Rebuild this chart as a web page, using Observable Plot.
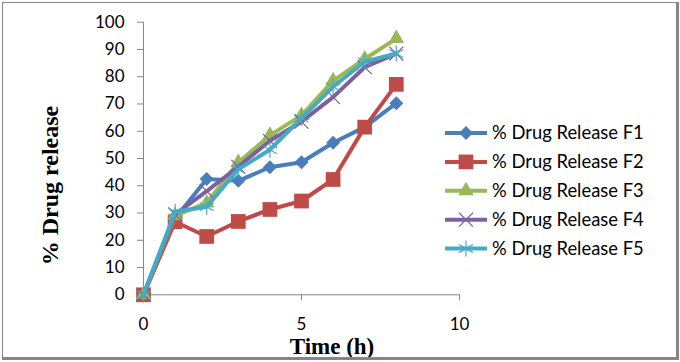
<!DOCTYPE html>
<html>
<head>
<meta charset="utf-8">
<script src="https://cdn.jsdelivr.net/npm/d3@7"></script>
<script src="https://cdn.jsdelivr.net/npm/@observablehq/plot@0.6"></script>
<style>
  body { margin: 0; background: #fff; }
  #wrap { position: relative; width: 680px; height: 362px; }
  #frame { position: absolute; left: 2px; top: 2px; width: 677px; height: 358px; box-sizing: border-box;
    border-left: 1px solid #868686; border-top: 1px solid #868686; border-right: 3px solid #868686; border-bottom: 3px solid #868686; pointer-events: none; }
  #chart { position: absolute; left: 0; top: 0; }
</style>
</head>
<body>
<div id="wrap"><div id="chart"></div><div id="frame"></div></div>
<script>
const time = [0, 1, 2, 3, 4, 5, 6, 7, 8];
const F1 = [0, 28, 42.5, 41.8, 46.8, 48.6, 55.8, 61.5, 70.3];
const F2 = [0, 26.8, 21.4, 26.9, 31.3, 34.4, 42.3, 61.5, 77.2];
const F3 = [0, 29, 33.7, 48.5, 58.5, 65.8, 78.5, 86.5, 94];
const F4 = [0, 29.5, 38, 47, 56.5, 63.5, 72.5, 83.5, 88.5];
const F5 = [0, 30.5, 32.3, 46, 53.2, 64.8, 76.3, 85.5, 88.5];
const seriesNames = ["% Drug Release F1", "% Drug Release F2", "% Drug Release F3", "% Drug Release F4", "% Drug Release F5"];
const seriesValues = [F1, F2, F3, F4, F5];
const xTicks = [0, 5, 10];
const yTicks = [0, 10, 20, 30, 40, 50, 60, 70, 80, 90, 100];

// styles
const colors = ["#4A7EBB", "#BE4B48", "#98B954", "#7D60A0", "#46AAC5"];
const symbols = ["diamond2", "square", "triangle", "times", "asterisk"];
const radii = [6.3, 8.3, 5.8, 6.4, 7.6];
const filled = [true, true, true, false, false];

const series = seriesNames.map((name, i) => ({
  name, color: colors[i], symbol: symbols[i], r: radii[i], filled: filled[i],
  data: time.map((t, j) => ({time: t, value: seriesValues[i][j]}))
}));

const marks = [
  Plot.ruleY([0], {stroke: "#868686", strokeWidth: 1}),
  Plot.ruleX([0], {stroke: "#868686", strokeWidth: 1}),
  Plot.axisX({ticks: xTicks, tickSize: 6, tickPadding: 17, stroke: "#868686", fill: "#000", label: null}),
  Plot.axisY({ticks: yTicks, tickSize: 6, tickPadding: 13, stroke: "#868686", fill: "#000", label: null}),
];
for (const s of series) {
  marks.push(Plot.line(s.data, {x: "time", y: "value", stroke: s.color, strokeWidth: 4, strokeLinejoin: "round"}));
  marks.push(Plot.dot(s.data, {x: "time", y: "value", symbol: () => s.symbol, r: s.r,
    fill: s.filled ? s.color : "none", stroke: s.filled ? "none" : s.color, strokeWidth: s.filled ? 0 : 1.2}));
}

const chart = Plot.plot({
  width: 680,
  height: 362,
  marginLeft: 143,
  marginRight: 221,
  marginTop: 21.7,
  marginBottom: 67.7,
  style: {fontFamily: "Lato", fontSize: "17px", background: "transparent", color: "#000"},
  x: {domain: [0, 10], label: null},
  y: {domain: [0, 100], label: null},
  marks
});
document.getElementById("chart").appendChild(chart);

// axis titles and legend appended to the same svg
const svg = d3.select(chart);
svg.append("text").attr("x", 332).attr("y", 354).attr("text-anchor", "middle")
  .attr("font-family", "Liberation Serif").attr("font-weight", "bold").attr("font-size", 23)
  .attr("fill", "#000").text("Time (h)");
svg.append("text").attr("transform", "translate(58,185.5) rotate(-90)").attr("text-anchor", "middle")
  .attr("font-family", "Liberation Serif").attr("font-weight", "bold").attr("font-size", 24)
  .attr("fill", "#000").text("% Drug release");

const legend = svg.append("g");
const symMap = {diamond2: d3.symbolDiamond2, square: d3.symbolSquare, triangle: d3.symbolTriangle, times: d3.symbolTimes, asterisk: d3.symbolAsterisk};
series.forEach((s, i) => {
  const cy = 133 + i * 28.9;
  const g = legend.append("g").attr("transform", `translate(0,${cy})`);
  g.append("line").attr("x1", 445).attr("x2", 487).attr("y1", 0).attr("y2", 0)
    .attr("stroke", s.color).attr("stroke-width", 4);
  g.append("path").attr("transform", "translate(466,0)")
    .attr("d", d3.symbol(symMap[s.symbol], Math.PI * s.r * s.r)())
    .attr("fill", s.filled ? s.color : "none").attr("stroke", s.filled ? "none" : s.color).attr("stroke-width", s.filled ? 0 : 1.2);
  g.append("text").attr("x", 492).attr("y", 0).attr("dy", "0.35em").attr("text-anchor", "start")
    .attr("font-family", "Lato").attr("font-size", 18.4).attr("fill", "#000").text(s.name);
});
</script>
</body>
</html>
